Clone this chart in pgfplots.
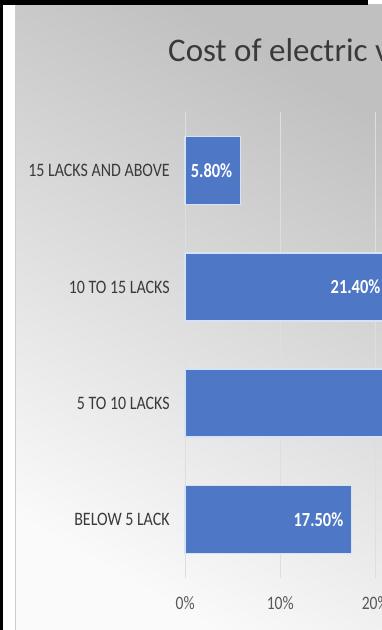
\documentclass[border=0pt]{standalone}
\usepackage{pgfplots}
\pgfplotsset{compat=1.18}
\usepackage{fontspec}
\setmainfont{Carlito}
\definecolor{barblue}{RGB}{78,120,198}
\definecolor{baredge}{RGB}{214,226,246}
\definecolor{labgray}{RGB}{58,58,58}
\definecolor{tickgray}{RGB}{88,88,88}
\definecolor{bgtop}{RGB}{192,192,192}
\definecolor{bgbot}{RGB}{250,250,250}
\definecolor{gridc}{RGB}{222,222,222}
\begin{document}
\begin{tikzpicture}[x=1pt,y=1pt]
\path[use as bounding box] (0,0) rectangle (382,630);
\clip (0,0) rectangle (382,630);
\fill[white] (0,0) rectangle (382,630);
\shade[top color=bgtop, bottom color=bgbot, shading angle=-30] (15,0) rectangle (382,625);
\fill[black] (0,0) rectangle (3,630);
\fill[black] (0,625) rectangle (368,630);
\draw[black!20, line width=0.8pt] (15,0) -- (15,625);
\node[anchor=base west, text=labgray, font=\fontsize{33}{33}\selectfont, inner sep=0pt] at (168,568) {Cost of electric vehicles};
\begin{axis}[
  at={(195,45)}, anchor=south west,
  x=9.5pt, y=116.3pt,
  xmin=0, xmax=60, ymin=-0.5, ymax=3.5,
  xbar, bar width=68pt,
  axis line style={draw=none},
  major tick length=0pt,
  /pgf/number format/assume math mode=true,
  xtick={0,10,20,30,40,50,60},
  xticklabel={\pgfmathprintnumber{\tick}\%},
  xticklabel style={text=tickgray, font=\fontsize{19}{19}\selectfont, xscale=0.82, yshift=-15pt},
  ytick={0,1,2,3},
  yticklabels={BELOW 5 LACK, 5 TO 10 LACKS, 10 TO 15 LACKS, 15 LACKS AND ABOVE},
  yticklabel style={text=labgray, font=\fontsize{19}{19}\selectfont, xscale=0.84, xshift=-15pt},
  xmajorgrids,
  grid style={gridc, line width=1pt},
  clip=false,
]
\addplot[fill=barblue, draw=baredge, line width=1.5pt,
  nodes near coords={\pgfmathprintnumber[fixed,fixed zerofill,precision=2,assume math mode=true]{\pgfplotspointmeta}\%},
  point meta=x,
  nodes near coords style={anchor=east, text=white, font=\bfseries\fontsize{20}{20}\selectfont, xscale=0.82, xshift=-6pt}]
  coordinates {(17.5,0) (55.3,1) (21.4,2) (5.8,3)};
\end{axis}
\end{tikzpicture}
\end{document}
